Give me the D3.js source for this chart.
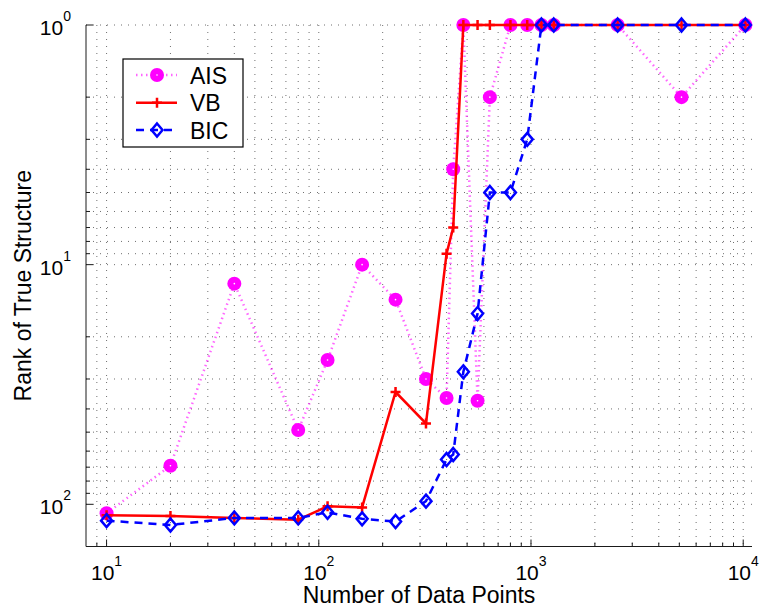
<!DOCTYPE html>
<html><head><meta charset="utf-8">
<script src="https://cdn.jsdelivr.net/npm/d3@7"></script>
<style>
body{margin:0;background:#fff}
svg{display:block}
text{font-family:"Liberation Sans",Arial,Helvetica,sans-serif;fill:#000}
</style>
</head><body><svg id="c" width="761" height="610"></svg>
<script>
// ---- data ----
const xValues = [10, 20, 40, 80, 110, 160, 230, 320, 400, 430, 480, 560, 640, 800, 960, 1120, 1280, 2560, 5120, 10240];
const aisRank = [109, 69, 12, 49, 25, 10, 14, 30, 36, 4, 1, 37, 2, 1, 1, 1, 1, 1, 2, 1];
const vbRank  = [111, 112, 114, 116, 102, 103, 34, 46, 9, 7, 1, 1, 1, 1, 1, 1, 1, 1, 1, 1];
const bicRank = [117, 122, 114, 114, 108, 115, 118, 97, 65, 62, 28, 16, 5, 5, 3, 1, 1, 1, 1, 1];
const seriesNames = ["AIS", "VB", "BIC"];
const xMajorTicks = [10, 100, 1000, 10000];
const xTickExponents = ["1", "2", "3", "4"];
const yMajorTicks = [1, 10, 100];
const yTickExponents = ["0", "1", "2"];
const xLabel = "Number of Data Points";
const yLabel = "Rank of True Structure";

// ---- layout ----
const L = 86, R = 752, T = 25, B = 546.5;
const svg = d3.select("#c");
const x = d3.scaleLog().domain([8, 11000]).range([L, R]);
const y = d3.scaleLog().domain([1, 150]).range([T, B]);

const xMinor = [], yMinor = [];
[1, 10, 100, 1000].forEach(d => { for (let k = 2; k <= 9; k++) { const v = k * d; if (v > 8 && v < 11000) xMinor.push(v); } });
[1, 10, 100].forEach(d => { for (let k = 2; k <= 9; k++) { const v = k * d; if (v <= 150) yMinor.push(v); } });

// ---- grid ----
const grid = svg.append("g").attr("stroke", "#333").attr("stroke-width", 1).attr("stroke-dasharray", "1,6").attr("opacity", 0.7);
xMinor.concat(xMajorTicks).forEach(v => {
  grid.append("line").attr("x1", x(v)).attr("x2", x(v)).attr("y1", T).attr("y2", B);
});
yMinor.concat(yMajorTicks).forEach(v => {
  grid.append("line").attr("x1", L).attr("x2", R).attr("y1", y(v)).attr("y2", y(v));
});

// ---- axes ----
const ax = svg.append("g").attr("stroke", "#1a1a1a").attr("stroke-width", 1);
ax.append("line").attr("x1", L).attr("x2", L).attr("y1", T).attr("y2", B);
ax.append("line").attr("x1", L).attr("x2", R).attr("y1", B).attr("y2", B);
xMajorTicks.forEach(v => ax.append("line").attr("x1", x(v)).attr("x2", x(v)).attr("y1", B).attr("y2", B - 7));
xMinor.forEach(v => ax.append("line").attr("x1", x(v)).attr("x2", x(v)).attr("y1", B).attr("y2", B - 4));
yMajorTicks.forEach(v => ax.append("line").attr("x1", L).attr("x2", L + 7).attr("y1", y(v)).attr("y2", y(v)));
yMinor.forEach(v => ax.append("line").attr("x1", L).attr("x2", L + 4).attr("y1", y(v)).attr("y2", y(v)));

// tick labels
xMajorTicks.forEach((v, i) => {
  const t = svg.append("text").attr("x", x(v)).attr("y", 580).attr("text-anchor", "middle").attr("font-size", 21);
  t.append("tspan").text("10");
  t.append("tspan").attr("font-size", 14).attr("dy", -14).text(xTickExponents[i]);
});
yMajorTicks.forEach((v, i) => {
  const t = svg.append("text").attr("x", 71).attr("y", y(v) + 10).attr("text-anchor", "end").attr("font-size", 21);
  t.append("tspan").text("10");
  t.append("tspan").attr("font-size", 14).attr("dy", -14).text(yTickExponents[i]);
});

// axis labels
svg.append("text").attr("x", (L + R) / 2).attr("y", 603).attr("text-anchor", "middle").attr("font-size", 23).text(xLabel);
svg.append("text").attr("transform", `translate(31,${(T + B) / 2}) rotate(-90)`).attr("text-anchor", "middle").attr("font-size", 23).text(yLabel);

// ---- series ----
const mk = arr => xValues.map((v, i) => ({ x: v, r: arr[i] }));
const line = d3.line().x(d => x(d.x)).y(d => y(d.r));

const styles = {
  AIS: { color: "#ff00ff", width: 2.5, dash: "1.5,3.5", opacity: 0.6 },
  VB:  { color: "#ff0000", width: 2.5, dash: null, opacity: 1 },
  BIC: { color: "#0000ff", width: 2.5, dash: "8,6", opacity: 1 }
};

function drawMarker(g, name, cx, cy) {
  const s = styles[name];
  if (name === "AIS") {
    g.append("circle").attr("cx", cx).attr("cy", cy).attr("r", 7).attr("fill", s.color);
    g.append("circle").attr("cx", cx).attr("cy", cy).attr("r", 0.8).attr("fill", "#fff");
  } else if (name === "VB") {
    g.append("path").attr("d", `M${cx - 5},${cy}H${cx + 5}M${cx},${cy - 5}V${cy + 5}`)
      .attr("stroke", s.color).attr("stroke-width", 2.5).attr("fill", "none");
  } else {
    g.append("path").attr("d", `M${cx},${cy - 6.5}L${cx + 5.5},${cy}L${cx},${cy + 6.5}L${cx - 5.5},${cy}Z`)
      .attr("stroke", s.color).attr("stroke-width", 2.5).attr("fill", "none");
  }
}

const seriesData = { AIS: mk(aisRank), VB: mk(vbRank), BIC: mk(bicRank) };
seriesNames.forEach(name => {
  const s = styles[name];
  const g = svg.append("g");
  g.append("path").datum(seriesData[name]).attr("d", line).attr("fill", "none")
    .attr("stroke", s.color).attr("stroke-width", s.width).attr("opacity", s.opacity)
    .attr("stroke-dasharray", s.dash);
  seriesData[name].forEach(d => drawMarker(g, name, x(d.x), y(d.r)));
});

// ---- legend ----
const lg = svg.append("g");
lg.append("rect").attr("x", 123).attr("y", 59).attr("width", 120).attr("height", 88)
  .attr("fill", "#fff").attr("stroke", "#000").attr("stroke-width", 1.2);
const legY = [75, 102.7, 130];
seriesNames.forEach((name, i) => {
  const s = styles[name];
  lg.append("line").attr("x1", 136).attr("x2", 177).attr("y1", legY[i]).attr("y2", legY[i])
    .attr("stroke", s.color).attr("stroke-width", s.width).attr("opacity", s.opacity)
    .attr("stroke-dasharray", s.dash);
  drawMarker(lg, name, 157, legY[i]);
  lg.append("text").attr("x", 190).attr("y", legY[i] + 8.5).attr("font-size", 23).text(name);
});
</script>
</body></html>
